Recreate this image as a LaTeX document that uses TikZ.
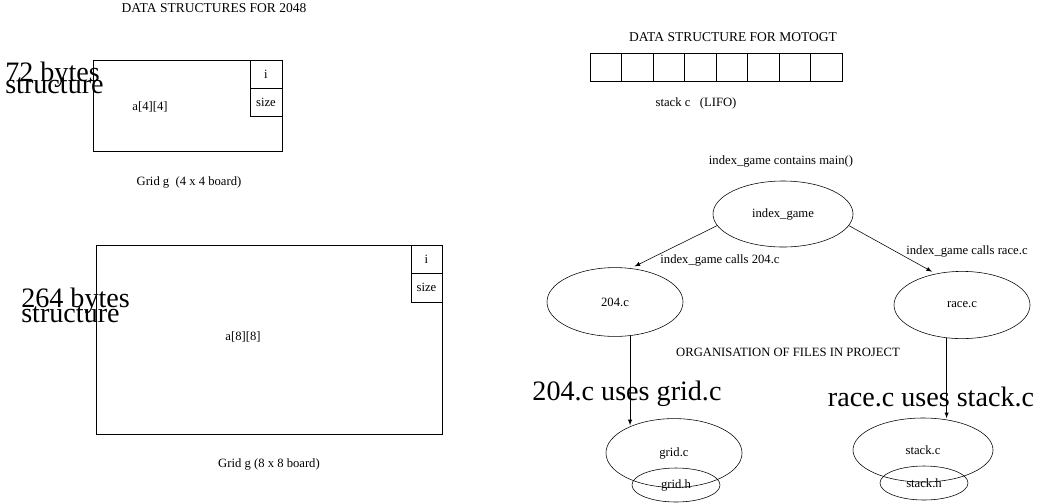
\documentclass[tikz,border=0pt]{standalone}
\usepackage{fontspec}
\setmainfont{Liberation Serif}
\usetikzlibrary{shapes.geometric}
\begin{document}
\begin{tikzpicture}[x=0.025cm,y=-0.025cm,
        small/.style={font=\fontsize{9}{10}\selectfont},
        big/.style={font=\fontsize{20}{22}\selectfont,inner sep=0},
        cell/.style={draw,small,inner sep=0,minimum width=0.7875cm,minimum height=0.7cm},
        file/.style={draw,ellipse,small,inner sep=0,minimum width=3.4cm,minimum height=1.72cm},
        header/.style={draw,ellipse,small,inner sep=0,minimum width=2.2cm,minimum height=0.85cm}]
    \useasboundingbox (0,0) rectangle (1055,502);

    % 2048 : les deux grilles
    \node[font=\fontsize{9.6}{10}\selectfont] (title2048) at (214,8) {DATA STRUCTURES FOR 2048};

    \node[draw,minimum width=4.725cm,minimum height=2.275cm] (grid4) at (187.5,105.5) {};
    \node[cell,minimum width=0.8cm] (i4) at (266,74) {i};
    \node[cell,minimum width=0.8cm] (size4) at (266,102) {size};
    \node[small] (a4) at (150,107) {a[4][4]};
    \node[small] (cap4) at (189,182) {Grid g\ \ (4 x 4 board)};
    \node[big,anchor=base west] (bytes72) at (5,81) {72 bytes};
    \node[big,anchor=base west] (struct72) at (5,93) {structure};

    \node[draw,minimum width=8.65cm,minimum height=4.725cm] (grid8) at (269,339.5) {};
    \node[cell,minimum width=0.775cm] (i8) at (426.5,259) {i};
    \node[cell,minimum width=0.775cm,minimum height=0.725cm] (size8) at (426.5,287.5) {size};
    \node[small] (a8) at (243,337) {a[8][8]};
    \node[small] (cap8) at (269,464) {Grid g (8 x 8 board)};
    \node[big,anchor=base west] (bytes264) at (21,307) {264 bytes};
    \node[big,anchor=base west] (struct264) at (21,322) {structure};

    % motogt : la pile
    \node[font=\fontsize{9.6}{10}\selectfont] (titlemoto) at (733,37) {DATA STRUCTURE FOR MOTOGT};
    \foreach \k in {0,...,7} {
        \node[cell] (s\k) at (605.75+31.5*\k,67) {};
    }
    \node[small] (stackcap) at (696,103) {stack c\ \ \ (LIFO)};

    % organisation des fichiers
    \node[small] (mainnote) at (781,161) {index\_game contains main()};
    \node[file,minimum width=3.5cm,minimum height=1.65cm] (idx) at (783,214) {index\_game};
    \node[file] (c204) at (615,302) {204.c};
    \node[file,minimum height=1.68cm] (race) at (962,305) {race.c};
    \node[small] (orga) at (788,352) {ORGANISATION OF FILES IN PROJECT};

    \node[file,minimum height=1.72cm] (gridc) at (674,453) {grid.c};
    \node[header] (gridh) at (676,485) {grid.h};
    \node[file,minimum width=3.5cm,minimum height=1.6cm] (stackc) at (923,450) {stack.c};
    \node[header] (stackh) at (924,483) {stack.h};

    \draw[-latex,shorten >=3pt] (idx.190) -- (c204.65);
    \node[small] (call204) at (720,260) {index\_game calls 204.c};
    \draw[-latex,shorten >=3pt] (idx.350) -- (race.130);
    \node[small] (callrace) at (967,251) {index\_game calls race.c};

    \draw[-latex] (c204.294) -- (c204.294 |- gridc.146);
    \node[big] (uses204) at (627,394) {204.c uses grid.c};
    \draw[-latex] (race.245) -- (race.245 |- stackc.70);
    \node[big] (usesrace) at (931,397) {race.c uses stack.c};
\end{tikzpicture}
\end{document}
